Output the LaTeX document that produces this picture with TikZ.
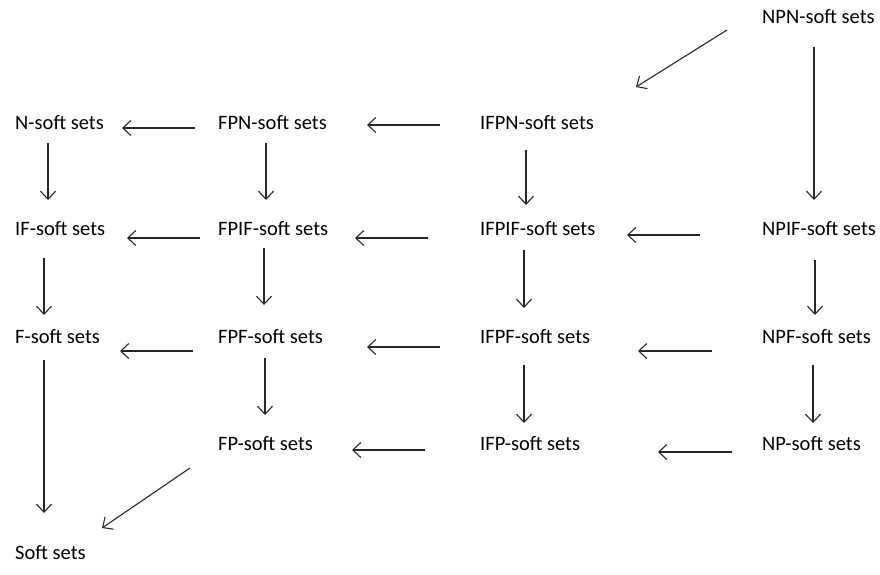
\documentclass[tikz,border=0pt]{standalone}
\usepackage{fontspec}
\setmainfont{Carlito}
\usetikzlibrary{arrows.meta}
\begin{document}
\begin{tikzpicture}[x=1bp,y=-1bp,
  lbl/.style={anchor=west,inner sep=0pt,text height=14bp,text depth=0pt,font=\fontsize{20.5bp}{24bp}\selectfont},
  arr/.style={draw=black!85,line width=1.1bp,-{Straight Barb[length=8bp,width=15bp,line width=1.1bp]}}]
\useasboundingbox (0,0) rectangle (880,575);
% nodes
\node[lbl] (NPN)  at (762,17)  {NPN-soft sets};
\node[lbl] (N)    at (15,123)  {N-soft sets};
\node[lbl] (FPN)  at (218,123) {FPN-soft sets};
\node[lbl] (IFPN) at (480,123) {IFPN-soft sets};
\node[lbl] (IF)   at (15,229)  {IF-soft sets};
\node[lbl] (FPIF) at (218,229) {FPIF-soft sets};
\node[lbl] (IFPIF) at (480,229) {IFPIF-soft sets};
\node[lbl] (NPIF) at (762,229) {NPIF-soft sets};
\node[lbl] (F)    at (15,336)  {F-soft sets};
\node[lbl] (FPF)  at (218,336) {FPF-soft sets};
\node[lbl] (IFPF) at (480,336) {IFPF-soft sets};
\node[lbl] (NPF)  at (762,336) {NPF-soft sets};
\node[lbl] (FP)   at (218,443) {FP-soft sets};
\node[lbl] (IFP)  at (480,443) {IFP-soft sets};
\node[lbl] (NP)   at (762,443) {NP-soft sets};
\node[lbl] (S)    at (15,552)  {Soft sets};
\coordinate (free) at (636,87);
% diagonal arrows
\draw[arr] ([shift={(-35,13)}]NPN.west) -- (free);
\draw[arr] ([shift={(-28,25)}]FP.west) -- ([shift={(87,-24)}]S.west);
% vertical arrows
\draw[arr] ([shift={(52,30)}]NPN.west) -- ([shift={(52,-29)}]NPIF.west);
\draw[arr] ([shift={(33,20)}]N.west) -- ([shift={(33,-29)}]IF.west);
\draw[arr] ([shift={(48,20)}]FPN.west) -- ([shift={(48,-29)}]FPIF.west);
\draw[arr] ([shift={(46,27)}]IFPN.west) -- ([shift={(46,-24)}]IFPIF.west);
\draw[arr] ([shift={(29,29)}]IF.west) -- ([shift={(29,-21)}]F.west);
\draw[arr] ([shift={(46,19)}]FPIF.west) -- ([shift={(46,-31)}]FPF.west);
\draw[arr] ([shift={(44,21)}]IFPIF.west) -- ([shift={(44,-28)}]IFPF.west);
\draw[arr] ([shift={(53,31)}]NPIF.west) -- ([shift={(53,-21)}]NPF.west);
\draw[arr] ([shift={(29,24)}]F.west) -- ([shift={(29,-39)}]S.west);
\draw[arr] ([shift={(47,22)}]FPF.west) -- ([shift={(47,-28)}]FP.west);
\draw[arr] ([shift={(44,29)}]IFPF.west) -- ([shift={(44,-20)}]IFP.west);
\draw[arr] ([shift={(51,29)}]NPF.west) -- ([shift={(51,-20)}]NP.west);
% horizontal arrows
\draw[arr] ([shift={(-23,5)}]FPN.west) -- ([shift={(107,5)}]N.west);
\draw[arr] ([shift={(-40,2)}]IFPN.west) -- ([shift={(149,2)}]FPN.west);
\draw[arr] ([shift={(-18,9)}]FPIF.west) -- ([shift={(112,9)}]IF.west);
\draw[arr] ([shift={(-52,9)}]IFPIF.west) -- ([shift={(137,9)}]FPIF.west);
\draw[arr] ([shift={(-62,6)}]NPIF.west) -- ([shift={(147,6)}]IFPIF.west);
\draw[arr] ([shift={(-25,15)}]FPF.west) -- ([shift={(105,15)}]F.west);
\draw[arr] ([shift={(-40,11)}]IFPF.west) -- ([shift={(149,11)}]FPF.west);
\draw[arr] ([shift={(-50,15)}]NPF.west) -- ([shift={(158,15)}]IFPF.west);
\draw[arr] ([shift={(-55,7)}]IFP.west) -- ([shift={(134,7)}]FP.west);
\draw[arr] ([shift={(-30,9)}]NP.west) -- ([shift={(178,9)}]IFP.west);
\end{tikzpicture}
\end{document}
